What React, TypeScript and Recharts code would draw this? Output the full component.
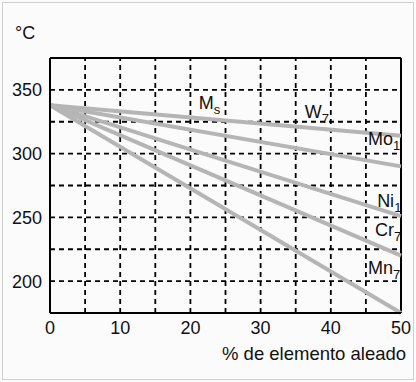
import React from "react";
import { LineChart, Line, XAxis, YAxis, ReferenceLine, ReferenceDot } from "recharts";

// Data
const pct = [0, 50];
const wSeries = [338, 314];
const moSeries = [338, 290];
const niSeries = [338, 251];
const crSeries = [338, 220];
const mnSeries = [338, 175];

const xTicks = [0, 10, 20, 30, 40, 50];
const yTicks = [200, 250, 300, 350];
const xGrid = [5, 10, 15, 20, 25, 30, 35, 40, 45];
const yGrid = [200, 225, 250, 275, 300, 325, 350];

// Annotation labels (main text, subscript) anchored in data coordinates
const labelNames = ["M", "W", "Mo", "Ni", "Cr", "Mn"];
const labelSubs = ["s", "7", "1", "1", "7", "7"];
const labelX = [21.2, 36.3, 45.3, 46.6, 46.3, 45.3];
const labelY = [335.3, 328.3, 306.6, 257.8, 235.3, 205.8];

const data = pct.map((p, i) => ({
  p,
  w: wSeries[i],
  mo: moSeries[i],
  ni: niSeries[i],
  cr: crSeries[i],
  mn: mnSeries[i],
}));

const FONT = "'Liberation Sans', Arial, Helvetica, sans-serif";
const LINE_COLOR = "#b5b5b5";

const makeLabel = (main: string, sub: string) => (props: any) => (
  <text x={props.cx} y={props.cy} fontFamily={FONT} fontSize={18} fill="#111">
    {main}
    <tspan fontSize={13} dy={5}>{sub}</tspan>
  </text>
);

export default function App() {
  const series = ["w", "mo", "ni", "cr", "mn"];
  return (
    <div style={{ position: "absolute", left: 0, top: 0, width: 416, height: 382, background: "#fbfbfb", fontFamily: FONT }}>
      <div style={{ position: "absolute", left: 2, top: 2, width: 410, height: 376, border: "1px solid #d0d0d0" }} />
      <LineChart width={416} height={382} data={data} margin={{ top: 58, right: 15, bottom: 39, left: 10 }}>
        <XAxis
          dataKey="p"
          type="number"
          domain={[0, 50]}
          ticks={xTicks}
          tickLine={false}
          axisLine={{ stroke: "#000", strokeWidth: 2 }}
          tick={{ fill: "#111", fontSize: 18, fontFamily: FONT }}
          height={30}
        />
        <YAxis
          type="number"
          domain={[175, 375]}
          ticks={yTicks}
          tickLine={false}
          axisLine={{ stroke: "#000", strokeWidth: 2 }}
          tick={{ fill: "#111", fontSize: 18, fontFamily: FONT }}
          width={40}
        />
        {xGrid.map((v) => (
          <ReferenceLine key={"vx" + v} x={v} stroke="#000" strokeWidth={1.8} strokeDasharray="5 4" />
        ))}
        {yGrid.map((v) => (
          <ReferenceLine key={"hy" + v} y={v} stroke="#000" strokeWidth={1.8} strokeDasharray="5 4" />
        ))}
        <ReferenceLine y={375} stroke="#000" strokeWidth={2} />
        <ReferenceLine x={50} stroke="#000" strokeWidth={2} />
        {series.map((k) => (
          <Line
            key={k}
            dataKey={k}
            stroke={LINE_COLOR}
            strokeWidth={4}
            dot={false}
            isAnimationActive={false}
            type="linear"
          />
        ))}
        {labelNames.map((n, i) => (
          <ReferenceDot
            key={n}
            x={labelX[i]}
            y={labelY[i]}
            r={0}
            ifOverflow="visible"
            shape={makeLabel(n, labelSubs[i])}
          />
        ))}
      </LineChart>
      <div style={{ position: "absolute", left: 15, top: 23, fontSize: 18, color: "#111", lineHeight: "20px" }}>°C</div>
      <div style={{ position: "absolute", left: 222, top: 344, fontSize: 18.5, color: "#111", lineHeight: "20px", whiteSpace: "nowrap" }}>
        % de elemento aleado
      </div>
    </div>
  );
}
